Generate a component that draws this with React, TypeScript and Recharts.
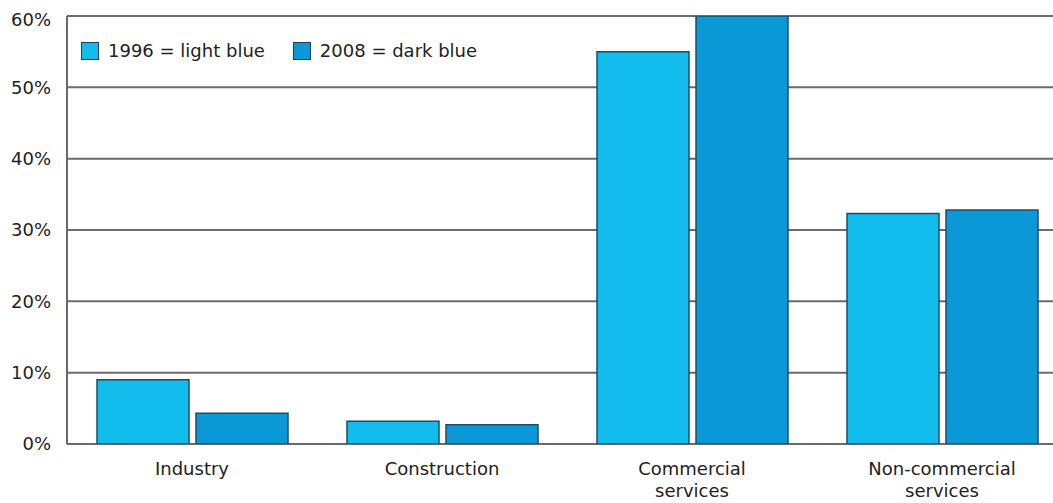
import { BarChart, Bar, XAxis, YAxis, CartesianGrid, Legend } from 'recharts';

const categories = ['Industry', 'Construction', 'Commercial services', 'Non-commercial services'];
const tickLines = [['Industry'], ['Construction'], ['Commercial', 'services'], ['Non-commercial', 'services']];
const values1996 = [9.0, 3.2, 55.0, 32.3];
const values2008 = [4.3, 2.7, 60.0, 32.8];
const yTicks = [0, 10, 20, 30, 40, 50, 60];

const LIGHT = '#12bcec';
const DARK = '#0a98d6';
const FONT = '"DejaVu Sans", sans-serif';

const data = categories.map((c, i) => ({ name: c, y1996: values1996[i], y2008: values2008[i] }));

function CategoryTick({ x, y, payload, index }: any) {
  const lines = tickLines[index] ?? [payload.value];
  return (
    <text x={x} y={y} textAnchor="middle" fill="#222" fontSize={18} fontFamily={FONT}>
      {lines.map((l: string, i: number) => (
        <tspan key={i} x={x} dy={i === 0 ? 23 : 22}>
          {l}
        </tspan>
      ))}
    </text>
  );
}

// top label sits a little lower than its gridline in the original
function PercentTick({ x, y, payload }: any) {
  const shift = payload.value === 60 ? 4 : 0;
  return (
    <text x={x} y={y + shift} dy="0.355em" textAnchor="end" fill="#222" fontSize={18} fontFamily={FONT}>
      {`${payload.value}%`}
    </text>
  );
}

function LegendBox() {
  const items = [
    { label: '1996 = light blue', color: LIGHT },
    { label: '2008 = dark blue', color: DARK },
  ];
  return (
    <div style={{ display: 'flex', gap: 28, fontFamily: FONT, fontSize: 18, color: '#222', background: '#fff' }}>
      {items.map((it) => (
        <div key={it.label} style={{ display: 'flex', alignItems: 'center', gap: 9, lineHeight: '20px' }}>
          <span
            style={{
              display: 'inline-block',
              width: 16,
              height: 16,
              background: it.color,
              border: '1px solid #1d3f52',
            }}
          />
          <span>{it.label}</span>
        </div>
      ))}
    </div>
  );
}

export default function App() {
  return (
    <div style={{ position: 'fixed', left: 0, top: 0, width: 1053, height: 503, overflow: 'hidden', background: '#fff' }}>
      <BarChart
        width={1067}
        height={503}
        data={data}
        margin={{ top: 16, right: 0, left: 0, bottom: 0 }}
        barCategoryGap={30}
        barGap={7}
      >
        <CartesianGrid vertical={false} stroke="#6a6a6a" strokeWidth={2} />
        <YAxis
          width={67}
          domain={[0, 60]}
          ticks={yTicks}
          tickLine={false}
          tickSize={6}
          tickMargin={10}
          axisLine={{ stroke: '#6a6a6a', strokeWidth: 2 }}
          tick={<PercentTick />}
          allowDataOverflow
        />
        <XAxis
          dataKey="name"
          height={39}
          axisLine={false}
          tickLine={false}
          interval={0}
          tick={<CategoryTick />}
        />
        <Legend
          content={<LegendBox />}
          wrapperStyle={{ position: 'absolute', left: 81, top: 41, width: 'auto' }}
        />
        <Bar dataKey="y1996" name="1996" fill={LIGHT} stroke="#1d4d66" strokeWidth={1.5} isAnimationActive={false} />
        <Bar dataKey="y2008" name="2008" fill={DARK} stroke="#1d4d66" strokeWidth={1.5} isAnimationActive={false} />
      </BarChart>
    </div>
  );
}
